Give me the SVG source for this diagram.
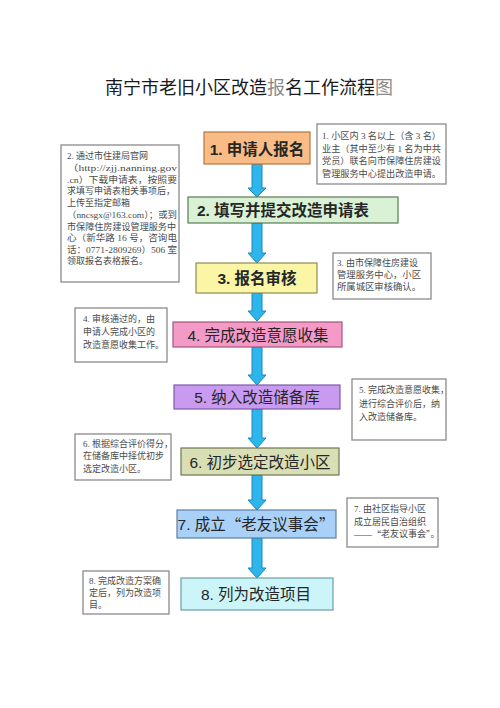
<svg xmlns="http://www.w3.org/2000/svg" width="500" height="708" viewBox="0 0 500 708">
<style>
.bg{fill:#ffffff}
.title{font-family:"Liberation Sans","Noto Sans CJK SC",sans-serif;font-size:18px;fill:#1a1a1a;dominant-baseline:central}
.gray{fill:#8a8a8a}
.step{stroke-width:1.2}
.st{font-family:"Liberation Sans","Noto Sans CJK SC",sans-serif;font-size:15.5px;fill:#262626;text-anchor:middle;dominant-baseline:central}
.b{font-weight:bold}
.cjk{font-family:"Noto Sans CJK SC",sans-serif}
.note{fill:#ffffff;stroke:#8a8a8a;stroke-width:1.3}
.nt{font-family:"Liberation Serif","Noto Sans CJK SC",serif;font-size:9px;fill:#4a4a4a;dominant-baseline:central}
.arrow{fill:#2CB6EC;stroke:#1C86BE;stroke-width:1}
</style>
<rect class="bg" x="0" y="0" width="500" height="708"/>
<text class="title" x="105" y="88">南宁市老旧小区改造<tspan class="gray">报</tspan>名工作流程<tspan class="gray">图</tspan></text>

<g id="connectors">
<polygon class="arrow" points="252,164 262,164 262,188 266,188 257,197 248,188 252,188"/>
<polygon class="arrow" points="252,223 262,223 262,253 266,253 257,263 248,253 252,253"/>
<polygon class="arrow" points="252,293 262,293 262,311 266,311 257,321 248,311 252,311"/>
<polygon class="arrow" points="252,347 262,347 262,375 266,375 257,385 248,375 252,375"/>
<polygon class="arrow" points="252,409 262,409 262,438 266,438 257,448 248,438 252,438"/>
<polygon class="arrow" points="252,475 262,475 262,500 266,500 257,510 248,500 252,500"/>
<polygon class="arrow" points="252,538 262,538 262,568 266,568 257,578 248,568 252,568"/>
</g>

<g id="step1">
<rect class="step" x="204" y="132" width="106" height="32" fill="#F9BC86" stroke="#B4773F"/>
<text class="st b" x="257" y="149" font-size="16">1. 申请人报名</text>
</g>
<g id="step2">
<rect class="step" x="188" y="197" width="210" height="26" fill="#D9F2D5" stroke="#5B7A55"/>
<text class="st b" x="283" y="210" font-size="15">2. 填写并提交改造申请表</text>
</g>
<g id="step3">
<rect class="step" x="196" y="263" width="121" height="30" fill="#FAF6A6" stroke="#8E8A50"/>
<text class="st b" x="257" y="278" font-size="16">3. 报名审核</text>
</g>
<g id="step4">
<rect class="step" x="173" y="322" width="169" height="25" fill="#F49AC6" stroke="#A3557E"/>
<text class="st" x="258" y="335">4. 完成改造意愿收集</text>
</g>
<g id="step5">
<rect class="step" x="174" y="385" width="166" height="24" fill="#C99BF0" stroke="#7D5AA6"/>
<text class="st" x="257" y="397">5. 纳入改造储备库</text>
</g>
<g id="step6">
<rect class="step" x="181" y="448" width="158" height="27" fill="#D9DFB5" stroke="#6E7650"/>
<text class="st" x="260" y="462">6. 初步选定改造小区</text>
</g>
<g id="step7">
<rect class="step" x="177" y="510" width="159" height="28" fill="#A9D1F7" stroke="#5C7FA3"/>
<text class="st" x="256" y="524" font-size="15">7. 成立<tspan class="cjk">“</tspan>老友议事会<tspan class="cjk">”</tspan></text>
</g>
<g id="step8">
<rect class="step" x="181" y="578" width="152" height="32" fill="#CBF5F8" stroke="#6B9EA6"/>
<text class="st" x="256" y="594">8. 列为改造项目</text>
</g>

<g id="note1">
<rect class="note" x="317" y="124" width="129" height="60"/>
<text class="nt" x="322" y="136" textLength="119" lengthAdjust="spacingAndGlyphs">1. 小区内 3 名以上（含 3 名）</text>
<text class="nt" x="322" y="148.5" textLength="119" lengthAdjust="spacingAndGlyphs">业主（其中至少有 1 名为中共</text>
<text class="nt" x="322" y="161" textLength="119" lengthAdjust="spacingAndGlyphs">党员）联名向市保障住房建设</text>
<text class="nt" x="322" y="173.5" textLength="119" lengthAdjust="spacingAndGlyphs">管理服务中心提出改造申请。</text>
</g>
<g id="note2">
<rect class="note" x="61" y="145" width="118" height="137"/>
<text class="nt" x="67" y="156">2. 通过市住建局官网</text>
<text class="nt" x="67" y="168" textLength="110" lengthAdjust="spacingAndGlyphs">（http://zjj.nanning.gov</text>
<text class="nt" x="67" y="179.5" textLength="110" lengthAdjust="spacingAndGlyphs">.cn）下载申请表，按照要</text>
<text class="nt" x="67" y="191" textLength="108" lengthAdjust="spacingAndGlyphs">求填写申请表相关事项后，</text>
<text class="nt" x="67" y="203">上传至指定邮箱</text>
<text class="nt" x="67" y="215" textLength="110" lengthAdjust="spacingAndGlyphs">（nncsgx@163.com）；或到</text>
<text class="nt" x="67" y="226.5" textLength="109" lengthAdjust="spacingAndGlyphs">市保障住房建设管理服务中</text>
<text class="nt" x="67" y="238" textLength="110" lengthAdjust="spacingAndGlyphs">心（新华路 16 号，咨询电</text>
<text class="nt" x="67" y="249.5" textLength="110" lengthAdjust="spacingAndGlyphs">话：0771-2809269）506 室</text>
<text class="nt" x="67" y="261">领取报名表格报名。</text>
</g>
<g id="note3">
<rect class="note" x="333" y="253" width="98" height="46"/>
<text class="nt" x="337" y="263">3. 由市保障住房建设</text>
<text class="nt" x="337" y="275" textLength="84" lengthAdjust="spacingAndGlyphs">管理服务中心，小区</text>
<text class="nt" x="337" y="287" textLength="84" lengthAdjust="spacingAndGlyphs">所属城区审核确认。</text>
</g>
<g id="note4">
<rect class="note" x="75" y="308" width="92" height="54"/>
<text class="nt" x="83" y="319">4. 审核通过的，由</text>
<text class="nt" x="83" y="332">申请人完成小区的</text>
<text class="nt" x="83" y="345">改造意愿收集工作。</text>
</g>
<g id="note5">
<rect class="note" x="352" y="379" width="94" height="61"/>
<text class="nt" x="359" y="390">5. 完成改造意愿收集，</text>
<text class="nt" x="359" y="403.5" textLength="81" lengthAdjust="spacingAndGlyphs">进行综合评价后，纳</text>
<text class="nt" x="359" y="417">入改造储备库。</text>
</g>
<g id="note6">
<rect class="note" x="75" y="434" width="96" height="46"/>
<text class="nt" x="83" y="443.5">6. 根据综合评价得分，</text>
<text class="nt" x="83" y="456">在储备库中择优初步</text>
<text class="nt" x="83" y="468.5">选定改造小区。</text>
</g>
<g id="note7">
<rect class="note" x="347" y="498" width="91" height="49"/>
<text class="nt" x="354" y="509">7. 由社区指导小区</text>
<text class="nt" x="354" y="521.5">成立居民自治组织</text>
<text class="nt" x="354" y="534">——<tspan class="cjk">“</tspan>老友议事会<tspan class="cjk">”</tspan>。</text>
</g>
<g id="note8">
<rect class="note" x="83" y="571" width="86" height="43"/>
<text class="nt" x="89" y="581">8. 完成改造方案确</text>
<text class="nt" x="89" y="593">定后，列为改造项</text>
<text class="nt" x="89" y="605">目。</text>
</g>
</svg>
